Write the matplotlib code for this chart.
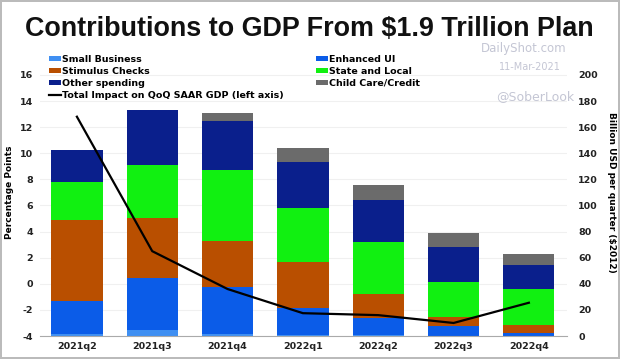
import matplotlib
matplotlib.use("Agg")
import matplotlib.pyplot as plt
import numpy as np

quarters = ["2021q2", "2021q3", "2021q4", "2022q1", "2022q2", "2022q3", "2022q4"]

# billion USD per quarter ($2012), right axis
small_business = [1.5, 4.6, 1.5, 1.0, 0.6, 0.4, 0.2]
enhanced_ui = [25.3, 39.6, 36.3, 20.2, 13.0, 7.3, 2.3]
stimulus_checks = [62.1, 46.0, 35.2, 35.7, 18.3, 6.6, 5.9]
state_local = [29.1, 40.6, 54.2, 40.9, 40.3, 26.8, 27.4]
other_spending = [24.5, 42.2, 37.5, 35.7, 32.0, 27.3, 18.6]
child_care = [0.0, 0.0, 6.3, 10.3, 11.2, 10.7, 8.4]

# percentage points, left axis
total_impact = [12.8, 2.5, -0.4, -2.25, -2.4, -3.0, -1.45]

series = [
    ("Small Business", small_business, "#3f8ff2"),
    ("Enhanced UI", enhanced_ui, "#0b5ce8"),
    ("Stimulus Checks", stimulus_checks, "#b94f00"),
    ("State and Local", state_local, "#11f011"),
    ("Other spending", other_spending, "#0a1f8c"),
    ("Child Care/Credit", child_care, "#6b6b6b"),
]

plt.rcParams["font.family"] = "DejaVu Sans"
fig = plt.figure(figsize=(6.2, 3.59), dpi=100)
fig.patch.set_edgecolor("#bbbbbb")
fig.patch.set_linewidth(1.5)

ax = fig.add_axes([0.0645, 0.064, 0.8505, 0.8])
ax2 = ax.twinx()

x = np.arange(len(quarters))
bottom = np.zeros(len(quarters))
bars = {}
for name, vals, color in series:
    bars[name] = ax2.bar(x, vals, 0.68, bottom=bottom, color=color, label=name, zorder=2)
    bottom += np.array(vals)

line, = ax.plot(x, total_impact, color="black", lw=1.6,
                label="Total Impact on QoQ SAAR GDP (left axis)", zorder=5)

ax.set_zorder(ax2.get_zorder() + 1)
ax.patch.set_visible(False)

ax.set_xlim(-0.49, 6.51)
ax.set_ylim(-4, 18)
ax.set_yticks(range(-4, 17, 2))
ax2.set_ylim(0, 220)
ax2.set_yticks(range(0, 201, 20))

tick_kw = dict(fontsize=6.8, fontweight="bold", color="#222222")
ax.set_xticks(x)
ax.set_xticklabels(quarters, **tick_kw)
ax.set_yticklabels([str(v) for v in range(-4, 17, 2)], **tick_kw)
ax2.set_yticklabels([str(v) for v in range(0, 201, 20)], **tick_kw)

for a in (ax, ax2):
    for s in a.spines.values():
        s.set_visible(False)
    a.tick_params(length=0, pad=5)
ax.spines["bottom"].set_visible(True)
ax.spines["bottom"].set_color("#aaaaaa")
ax.tick_params(axis="x", pad=4)
ax2.tick_params(axis="y", pad=8)

ax2.grid(axis="y", color="#f0f0f0", lw=0.8, zorder=0)
ax2.set_axisbelow(True)

ax.set_ylabel("Percentage Points", fontsize=6.5, fontweight="bold", labelpad=4)
ax2.set_ylabel("Billion USD per quarter ($2012)", fontsize=6.5, fontweight="bold",
               rotation=-90, labelpad=13)

handles = [bars["Small Business"], bars["Stimulus Checks"], bars["Other spending"], line,
           bars["Enhanced UI"], bars["State and Local"], bars["Child Care/Credit"]]
labels = ["Small Business", "Stimulus Checks", "Other spending",
          "Total Impact on QoQ SAAR GDP (left axis)",
          "Enhanced UI", "State and Local", "Child Care/Credit"]
ax.legend(handles, labels, ncol=2, loc="upper left", bbox_to_anchor=(0.072, 0.861),
          bbox_transform=fig.transFigure, frameon=False,
          prop=dict(size=6.8, weight="bold"), handlelength=1.25, handleheight=0.45,
          handletextpad=0.1, labelspacing=0.33, columnspacing=3.4, borderpad=0)

fig.text(0.499, 0.919, "Contributions to GDP From $1.9 Trillion Plan",
         family="Liberation Sans", fontweight="bold", fontsize=19.4,
         ha="center", va="center", color="#111111")

wm = "#c4c6d4"
fig.text(0.913, 0.864, "DailyShot.com", fontsize=8.5, color=wm, ha="right", va="center")
fig.text(0.905, 0.814, "11-Mar-2021", fontsize=7, color=wm, ha="right", va="center")
fig.text(0.927, 0.73, "@SoberLook", fontsize=9, color=wm, ha="right", va="center")

plt.savefig("out.png", dpi=100)
plt.close()
